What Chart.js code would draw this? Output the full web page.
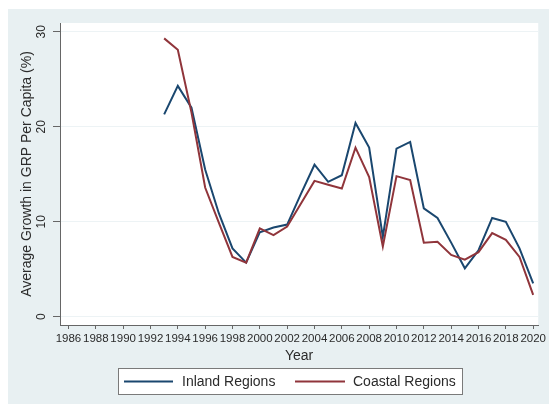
<!DOCTYPE html>
<html>
<head>
<meta charset="utf-8">
<title>Average Growth in GRP Per Capita</title>
<script src="https://cdn.jsdelivr.net/npm/chart.js@4.4.1/dist/chart.umd.min.js"></script>
<style>
  html, body { margin: 0; padding: 0; background: #ffffff; }
  #wrap { width: 549px; height: 405px; position: relative; }
</style>
</head>
<body>
<div id="wrap"><canvas id="growth" width="549" height="405"></canvas></div>
<script>
// Annual average growth of GRP per capita (%), by region group
const years = [1993, 1994, 1995, 1996, 1997, 1998, 1999, 2000, 2001, 2002,
               2003, 2004, 2005, 2006, 2007, 2008, 2009, 2010, 2011, 2012,
               2013, 2014, 2015, 2016, 2017, 2018, 2019, 2020];
const inland = [21.3, 24.3, 22.0, 15.5, 10.9, 7.2, 5.7, 8.9, 9.4, 9.7,
                12.9, 16.0, 14.2, 14.9, 20.4, 17.8, 8.4, 17.7, 18.4, 11.4,
                10.4, 7.8, 5.1, 7.0, 10.4, 10.0, 7.2, 3.5];
const coastal = [29.3, 28.1, 21.5, 13.6, 9.9, 6.3, 5.7, 9.3, 8.6, 9.5,
                 11.9, 14.3, 13.9, 13.5, 17.8, 14.7, 7.4, 14.8, 14.4, 7.8,
                 7.9, 6.5, 6.0, 6.8, 8.8, 8.1, 6.3, 2.3];
const seriesNames = ['Inland Regions', 'Coastal Regions'];
const xTickYears = [1986, 1988, 1990, 1992, 1994, 1996, 1998, 2000, 2002,
                    2004, 2006, 2008, 2010, 2012, 2014, 2016, 2018, 2020];
const yTickValues = [0, 10, 20, 30];
const xTitle = 'Year';
const yTitle = 'Average Growth in GRP Per Capita (%)';

const FONT = '"Liberation Sans", Arial, Helvetica, sans-serif';
const TEXT = '#2b2b2b';
const AXIS = '#666666';
const GRAPH_BG = '#e8f0f2';
const NAVY = '#1a476f';
const MAROON = '#90353b';

const toPoints = vals => years.map((yr, i) => ({ x: yr, y: vals[i] }));

// Outer graph region and white plot region behind the series
const panelBackground = {
  id: 'panelBackground',
  beforeDraw(chart) {
    const { ctx, chartArea: a } = chart;
    ctx.save();
    ctx.fillStyle = GRAPH_BG;
    ctx.fillRect(8, 9, chart.width - 8, chart.height - 10);
    ctx.fillStyle = '#ffffff';
    ctx.fillRect(a.left, a.top, a.right - a.left, a.bottom - a.top);
    ctx.restore();
  }
};

// Vertical y tick labels, reading bottom to top
const verticalYLabels = {
  id: 'verticalYLabels',
  afterDraw(chart) {
    const { ctx } = chart;
    const ys = chart.scales.y;
    ctx.save();
    ctx.fillStyle = TEXT;
    ctx.font = '12px ' + FONT;
    ctx.textAlign = 'center';
    ctx.textBaseline = 'middle';
    ys.ticks.forEach(t => {
      const py = ys.getPixelForValue(t.value);
      ctx.save();
      ctx.translate(42, py);
      ctx.rotate(-Math.PI / 2);
      ctx.fillText(String(t.value), 0, 0);
      ctx.restore();
    });
    ctx.restore();
  }
};

// Boxed legend below the axis title
const boxedLegend = {
  id: 'boxedLegend',
  afterDraw(chart) {
    const { ctx } = chart;
    const ds = chart.data.datasets;
    ctx.save();
    ctx.fillStyle = '#ffffff';
    ctx.fillRect(118, 368, 344, 26);
    ctx.strokeStyle = '#7a7a7a';
    ctx.lineWidth = 1;
    ctx.strokeRect(118.5, 368.5, 344, 26);
    const entries = [
      { x0: 124, x1: 173, tx: 182 },
      { x0: 295, x1: 345, tx: 353 }
    ];
    ctx.font = '14px ' + FONT;
    ctx.textBaseline = 'middle';
    ctx.textAlign = 'left';
    entries.forEach((e, i) => {
      ctx.strokeStyle = ds[i].borderColor;
      ctx.lineWidth = 2;
      ctx.beginPath();
      ctx.moveTo(e.x0, 381.5);
      ctx.lineTo(e.x1, 381.5);
      ctx.stroke();
      ctx.fillStyle = TEXT;
      ctx.fillText(ds[i].label, e.tx, 382);
    });
    ctx.restore();
  }
};

new Chart(document.getElementById('growth'), {
  type: 'line',
  data: {
    datasets: [
      { label: seriesNames[0], data: toPoints(inland), borderColor: NAVY,
        backgroundColor: NAVY, borderWidth: 2, pointRadius: 0, tension: 0, order: 1 },
      { label: seriesNames[1], data: toPoints(coastal), borderColor: MAROON,
        backgroundColor: MAROON, borderWidth: 2, pointRadius: 0, tension: 0, order: 0 }
    ]
  },
  options: {
    responsive: false,
    devicePixelRatio: 1,
    animation: false,
    layout: { padding: { left: 0, right: 3, top: 23, bottom: 40 } },
    plugins: {
      legend: { display: false },
      tooltip: { enabled: false }
    },
    scales: {
      x: {
        type: 'linear',
        min: 1985.38,
        max: 2020.37,
        afterBuildTicks: s => { s.ticks = xTickYears.map(v => ({ value: v })); },
        afterFit: s => { s.height = 40; },
        ticks: {
          autoSkip: false, maxRotation: 0, minRotation: 0, padding: 3,
          color: TEXT, font: { family: FONT, size: 11.5 },
          callback: v => String(v)
        },
        grid: { drawOnChartArea: false, drawTicks: true, tickLength: 4, tickColor: AXIS },
        border: { display: true, color: AXIS, width: 1 },
        title: {
          display: true, text: xTitle, color: TEXT,
          font: { family: FONT, size: 14 }, padding: { top: 0, bottom: 0 }
        }
      },
      y: {
        type: 'linear',
        min: -0.87,
        max: 30.92,
        afterBuildTicks: s => { s.ticks = yTickValues.map(v => ({ value: v })); },
        afterFit: s => { s.width = 60; },
        ticks: { display: false },
        grid: { color: '#edf3f5', lineWidth: 1, drawTicks: true, tickLength: 7, tickColor: AXIS },
        border: { display: true, color: AXIS, width: 1 },
        title: {
          display: true, text: yTitle, color: TEXT,
          font: { family: FONT, size: 14 }, padding: { top: 18.6, bottom: 0 }
        }
      }
    }
  },
  plugins: [panelBackground, verticalYLabels, boxedLegend]
});
</script>
</body>
</html>
